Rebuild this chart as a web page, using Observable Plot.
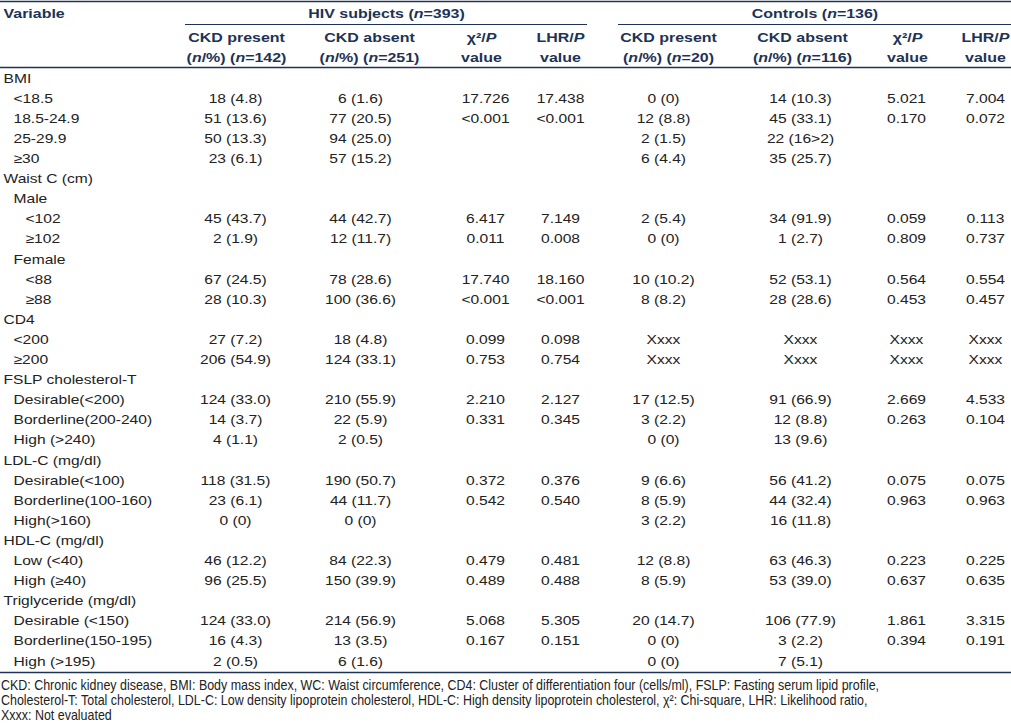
<!DOCTYPE html>
<html><head><meta charset="utf-8">
<script src="https://cdn.jsdelivr.net/npm/d3@7"></script>
<script src="https://cdn.jsdelivr.net/npm/@observablehq/plot@0.6"></script>
<style>
html,body{margin:0;padding:0;background:#fff;}
#foot{font-family:"Liberation Sans",Arial,sans-serif;font-size:15px;line-height:15px;color:#222;padding-left:1px;white-space:nowrap;}
#foot div{transform:scaleX(0.83);transform-origin:0 0;}
</style></head><body><div id="chart"></div><div id="foot"></div>
<script>
// ---------- data ----------
const rowLabels = ["BMI","<18.5","18.5-24.9","25-29.9","≥30","Waist C (cm)","Male","<102","≥102","Female","<88","≥88","CD4","<200","≥200","FSLP cholesterol-T","Desirable(<200)","Borderline(200-240)","High (>240)","LDL-C (mg/dl)","Desirable(<100)","Borderline(100-160)","High(>160)","HDL-C (mg/dl)","Low (<40)","High (≥40)","Triglyceride (mg/dl)","Desirable (<150)","Borderline(150-195)","High (>195)"];
const rowIndent = [0,1,1,1,1,0,1,2,2,1,2,2,0,1,1,0,1,1,1,0,1,1,1,0,1,1,0,1,1,1];
const hivPresent = ["","18 (4.8)","51 (13.6)","50 (13.3)","23 (6.1)","","","45 (43.7)","2 (1.9)","","67 (24.5)","28 (10.3)","","27 (7.2)","206 (54.9)","","124 (33.0)","14 (3.7)","4 (1.1)","","118 (31.5)","23 (6.1)","0 (0)","","46 (12.2)","96 (25.5)","","124 (33.0)","16 (4.3)","2 (0.5)"];
const hivAbsent = ["","6 (1.6)","77 (20.5)","94 (25.0)","57 (15.2)","","","44 (42.7)","12 (11.7)","","78 (28.6)","100 (36.6)","","18 (4.8)","124 (33.1)","","210 (55.9)","22 (5.9)","2 (0.5)","","190 (50.7)","44 (11.7)","0 (0)","","84 (22.3)","150 (39.9)","","214 (56.9)","13 (3.5)","6 (1.6)"];
const hivChi = ["","17.726","<0.001","","","","","6.417","0.011","","17.740","<0.001","","0.099","0.753","","2.210","0.331","","","0.372","0.542","","","0.479","0.489","","5.068","0.167",""];
const hivLhr = ["","17.438","<0.001","","","","","7.149","0.008","","18.160","<0.001","","0.098","0.754","","2.127","0.345","","","0.376","0.540","","","0.481","0.488","","5.305","0.151",""];
const ctlPresent = ["","0 (0)","12 (8.8)","2 (1.5)","6 (4.4)","","","2 (5.4)","0 (0)","","10 (10.2)","8 (8.2)","","Xxxx","Xxxx","","17 (12.5)","3 (2.2)","0 (0)","","9 (6.6)","8 (5.9)","3 (2.2)","","12 (8.8)","8 (5.9)","","20 (14.7)","0 (0)","0 (0)"];
const ctlAbsent = ["","14 (10.3)","45 (33.1)","22 (16>2)","35 (25.7)","","","34 (91.9)","1 (2.7)","","52 (53.1)","28 (28.6)","","Xxxx","Xxxx","","91 (66.9)","12 (8.8)","13 (9.6)","","56 (41.2)","44 (32.4)","16 (11.8)","","63 (46.3)","53 (39.0)","","106 (77.9)","3 (2.2)","7 (5.1)"];
const ctlChi = ["","5.021","0.170","","","","","0.059","0.809","","0.564","0.453","","Xxxx","Xxxx","","2.669","0.263","","","0.075","0.963","","","0.223","0.637","","1.861","0.394",""];
const ctlLhr = ["","7.004","0.072","","","","","0.113","0.737","","0.554","0.457","","Xxxx","Xxxx","","4.533","0.104","","","0.075","0.963","","","0.225","0.635","","3.315","0.191",""];
const groupTitles = ["HIV subjects (_n_=393)", "Controls (_n_=136)"];
const colTitles1 = ["CKD present","CKD absent","χ²/_P_","LHR/_P_","CKD present","CKD absent","χ²/_P_","LHR/_P_"];
const colTitles2 = ["(_n_/%) (_n_=142)","(_n_/%) (_n_=251)","value","value","(_n_/%) (_n_=20)","(_n_/%) (_n_=116)","value","value"];
const footnotes = [
 "CKD: Chronic kidney disease, BMI: Body mass index, WC: Waist circumference, CD4: Cluster of differentiation four (cells/ml), FSLP: Fasting serum lipid profile,",
 "Cholesterol-T: Total cholesterol, LDL-C: Low density lipoprotein cholesterol, HDL-C: High density lipoprotein cholesterol, χ²: Chi-square, LHR: Likelihood ratio,",
 "Xxxx: Not evaluated"
];

// ---------- layout ----------
const W = 1011, H = 677;
const colKeys = ["hivPresent","hivAbsent","hivChi","hivLhr","ctlPresent","ctlAbsent","ctlChi","ctlLhr"];
const colSeries = {hivPresent, hivAbsent, hivChi, hivLhr, ctlPresent, ctlAbsent, ctlChi, ctlLhr};
const valueX = {hivPresent:235, hivAbsent:360, hivChi:485, hivLhr:560, ctlPresent:663, ctlAbsent:800, ctlChi:906, ctlLhr:985};
const headX = {hivPresent:236, hivAbsent:369, hivChi:481, hivLhr:560, ctlPresent:668, ctlAbsent:802, ctlChi:907, ctlLhr:985};
const indentX = [3, 13, 25];
const rowY = i => 78 + i * 20.1;
const groupSpan = [[185, 587], [618, 1011]];
const NAVY = "#1d3355", INK = "#222";

const cells = [];
rowLabels.forEach((_, i) => colKeys.forEach(k => { const v = colSeries[k][i]; if (v) cells.push({row: i, col: k, text: v}); }));
const labels = rowLabels.map((t, i) => ({row: i, text: t, level: rowIndent[i]}));
const groups = groupTitles.map((t, j) => ({text: t, x1: groupSpan[j][0], x2: groupSpan[j][1]}));
const head1 = colKeys.map((k, j) => ({col: k, text: colTitles1[j]}));
const head2 = colKeys.map((k, j) => ({col: k, text: colTitles2[j]}));

const chart = Plot.plot({
  width: W, height: H,
  marginTop: 0, marginRight: 0, marginBottom: 0, marginLeft: 0,
  x: {type: "identity", axis: null},
  y: {type: "identity", axis: null},
  style: {fontFamily: "'Liberation Sans', Arial, sans-serif", fontSize: "13px", background: "#fff", overflow: "visible"},
  marks: [
    Plot.ruleY([1, 67, 672], {x1: 0, x2: W, stroke: NAVY, strokeWidth: 1.6}),
    Plot.ruleY(groups, {y: 24, x1: "x1", x2: "x2", stroke: NAVY, strokeWidth: 1.2}),
    Plot.text(["Variable"], {x: indentX[0], y: 13, text: d => d, textAnchor: "start", lineAnchor: "middle", fill: NAVY, fontWeight: "bold", fontSize: 13.3}),
    Plot.text(groups, {x: d => (d.x1 + d.x2) / 2, y: 13, text: "text", lineAnchor: "middle", fill: NAVY, fontWeight: "bold", fontSize: 13.3}),
    Plot.text(head1, {x: d => headX[d.col], y: 37, text: "text", lineAnchor: "middle", fill: NAVY, fontWeight: "bold", fontSize: 13.3}),
    Plot.text(head2, {x: d => headX[d.col], y: 57, text: "text", lineAnchor: "middle", fill: NAVY, fontWeight: "bold", fontSize: 13.3}),
    Plot.text(labels, {x: d => indentX[d.level], y: d => rowY(d.row), text: "text", textAnchor: "start", lineAnchor: "middle", fill: INK}),
    Plot.text(cells, {x: d => valueX[d.col], y: d => rowY(d.row), text: "text", lineAnchor: "middle", fill: INK})
  ]
});

// italic segments marked with _..._ and horizontal stretch of glyphs
const SX = 1.2;
chart.querySelectorAll("text").forEach(t => {
  const s = t.textContent;
  if (s.includes("_")) {
    t.textContent = "";
    s.split("_").forEach((seg, j) => {
      if (!seg) return;
      const ts = document.createElementNS("http://www.w3.org/2000/svg", "tspan");
      ts.textContent = seg;
      if (j % 2 === 1) ts.setAttribute("font-style", "italic");
      t.appendChild(ts);
    });
  }
  const tr = t.getAttribute("transform");
  if (tr && tr.includes("translate")) {
    t.setAttribute("transform", tr + ` scale(${SX},1)`);
  } else {
    const x = +(t.getAttribute("x") || 0), y = +(t.getAttribute("y") || 0);
    t.removeAttribute("x"); t.removeAttribute("y");
    t.setAttribute("transform", `${tr || ""} translate(${x},${y}) scale(${SX},1)`);
  }
});
document.getElementById("chart").appendChild(chart);

const foot = document.getElementById("foot");
footnotes.forEach(f => { const d = document.createElement("div"); d.textContent = f; foot.appendChild(d); });
</script></body></html>
